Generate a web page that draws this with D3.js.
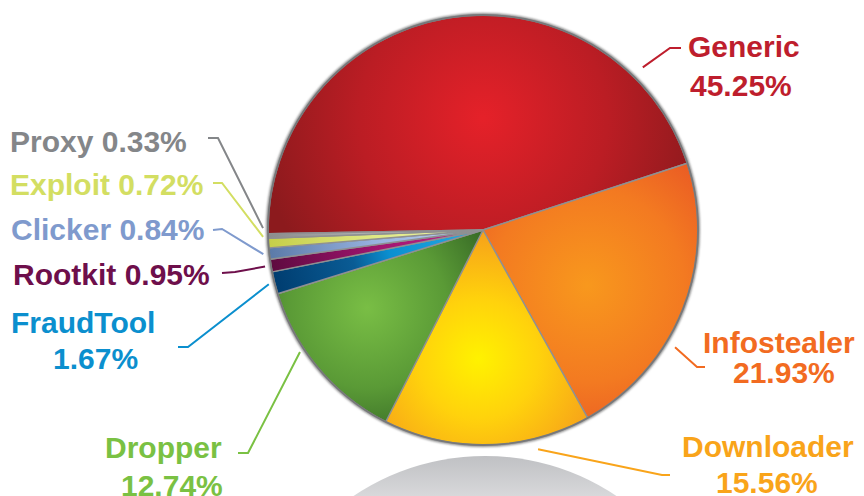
<!DOCTYPE html>
<html>
<head>
<meta charset="utf-8">
<script src="https://cdn.jsdelivr.net/npm/d3@7"></script>
<style>
  html, body { margin: 0; padding: 0; background: #ffffff; }
  svg { display: block; }
  text { font-family: "Liberation Sans", Arial, Helvetica, sans-serif; font-weight: bold; }
</style>
</head>
<body>
<svg id="chart" width="864" height="496"></svg>
<script>
// ---- data ----
const categories = ["Generic", "Infostealer", "Downloader", "Dropper", "FraudTool", "Rootkit", "Clicker", "Exploit", "Proxy"];
const shares = [45.25, 21.93, 15.56, 12.74, 1.67, 0.95, 0.84, 0.72, 0.33];
const valueLabels = ["45.25%", "21.93%", "15.56%", "12.74%", "1.67%", "0.95%", "0.84%", "0.72%", "0.33%"];

// ---- styles ----
const labelColors = ["#be1e2d", "#f26b21", "#f9a41a", "#7ac143", "#0b8fce", "#6e0f4b", "#7f9acd", "#d3de62", "#848689"];
const sliceStops = [
  [["0", "#e52129"], ["0.55", "#bb1d24"], ["1", "#8c1a1d"]],
  [["0", "#f8981d"], ["0.6", "#f37a21"], ["1", "#ea5a24"]],
  [["0", "#fff200"], ["0.45", "#ffd20c"], ["1", "#f69d1b"]],
  [["0", "#79be45"], ["0.6", "#5a9a36"], ["1", "#3a6e27"]],
  [["0", "#29abe2"], ["0.45", "#0a8fd0"], ["0.62", "#0a5c95"], ["1", "#003d70"]],
  [["0", "#c42a8d"], ["0.5", "#a0156f"], ["1", "#5e0a3f"]],
  [["0", "#bfd3f0"], ["0.5", "#98b3e0"], ["1", "#5b7aa8"]],
  [["0", "#f1f5b0"], ["0.5", "#e0e884"], ["1", "#c5ce48"]],
  [["0", "#d6d6d6"], ["0.5", "#b5b5b5"], ["1", "#8c8c8c"]]
];
// gradient focus: [angle deg, radius fraction, gradient radius fraction]
const sliceLight = [
  [0, 0.52, 1.05], [118, 0.55, 0.75], [182, 0.6, 0.62], [236, 0.65, 0.62],
  [0, 0, 1], [0, 0, 1], [0, 0, 1], [0, 0, 1], [0, 0, 1]
];

// ---- layout ----
const cx = 483, cy = 230, R = 215;
const startDeg = -91;
// label layout: lines [x, y, which], leader anchor angle (null = slice middle), anchor radius offset, elbow points
const labelLayout = [
  { lines: [[688, 57, "name"], [690, 96, "value"]], anchor: 44.5, off: 13, elbow: [[670, 48], [681, 48]] },
  { lines: [[703, 353, "name"], [733, 383, "value"]], anchor: 121.4, off: 10, elbow: [[697, 367], [705, 367]] },
  { lines: [[682, 457, "name"], [716, 493, "value"]], anchor: 165.9, off: 11, elbow: [[662, 475], [670, 475]] },
  { lines: [[105, 458, "name"], [121, 496, "value"]], anchor: 236.3, off: 5, elbow: [[248, 453], [238, 453]] },
  { lines: [[11, 333, "name"], [53, 369, "value"]], anchor: null, off: 6, elbow: [[188, 347], [178, 347]] },
  { lines: [[13, 285, "both"]], anchor: null, off: 6, elbow: [[235, 272], [222, 273]] },
  { lines: [[11, 240, "both"]], anchor: null, off: 6, elbow: [[222, 229], [213, 230]] },
  { lines: [[10, 195, "both"]], anchor: 268.2, off: 5, elbow: [[222, 183], [213, 183]] },
  { lines: [[10, 152, "both"]], anchor: 270.5, off: 5, elbow: [[218, 138], [208, 138]] }
];

const rad = d => d * Math.PI / 180;
const svg = d3.select("#chart");
const defs = svg.append("defs");

// floor reflection
const floorGrad = defs.append("linearGradient").attr("id", "floorGrad")
  .attr("gradientUnits", "userSpaceOnUse").attr("x1", 0).attr("y1", 455).attr("x2", 0).attr("y2", 540);
floorGrad.append("stop").attr("offset", "0").attr("stop-color", "#bfc0c3");
floorGrad.append("stop").attr("offset", "1").attr("stop-color", "#f2f2f3");
svg.append("ellipse").attr("cx", 485).attr("cy", 662).attr("rx", 222).attr("ry", 206)
  .attr("fill", "url(#floorGrad)");

// rim shadow filter
const blur = defs.append("filter").attr("id", "rimBlur").attr("x", "-10%").attr("y", "-10%").attr("width", "120%").attr("height", "120%");
blur.append("feGaussianBlur").attr("stdDeviation", 1.2);

const pie = d3.pie().sort(null).value(d => d.v)
  .startAngle(rad(startDeg)).endAngle(rad(startDeg + 360));
const data = categories.map((c, i) => ({ name: c, v: shares[i], label: valueLabels[i], i }));
const arcs = pie(data);
const arc = d3.arc().innerRadius(0).outerRadius(R);

// gradients (positions relative to the pie centre)
arcs.forEach((a, i) => {
  const [ang, rf, gr] = sliceLight[i];
  const fx = R * rf * Math.sin(rad(ang));
  const fy = -R * rf * Math.cos(rad(ang));
  const gr0 = defs.append("radialGradient").attr("id", "sg" + i)
    .attr("gradientUnits", "userSpaceOnUse")
    .attr("cx", fx).attr("cy", fy).attr("r", R * gr);
  sliceStops[i].forEach(s => gr0.append("stop").attr("offset", s[0]).attr("stop-color", s[1]));
});

const g = svg.append("g").attr("transform", `translate(${cx},${cy})`);

// outer rim shadow
g.append("circle").attr("r", R + 0.5).attr("fill", "none")
  .attr("stroke", "#8a8a8a").attr("stroke-width", 3).attr("filter", "url(#rimBlur)");

g.selectAll("path.slice").data(arcs).join("path")
  .attr("class", "slice")
  .attr("d", arc)
  .attr("fill", (d, i) => `url(#sg${i})`)
  .attr("stroke", "#8f9092")
  .attr("stroke-width", 1.4)
  .attr("stroke-linejoin", "round");

g.append("circle").attr("r", R).attr("fill", "none")
  .attr("stroke", "#77787a").attr("stroke-width", 1.8);

// labels + leaders
const lab = svg.append("g");
arcs.forEach((a, i) => {
  const L = labelLayout[i];
  const col = labelColors[i];
  const angDeg = L.anchor !== null ? L.anchor : ((a.startAngle + a.endAngle) / 2) * 180 / Math.PI;
  const rr = R + L.off;
  const p0 = [cx + rr * Math.sin(rad(angDeg)), cy - rr * Math.cos(rad(angDeg))];
  const pts = [p0].concat(L.elbow);
  lab.append("path")
    .attr("d", d3.line()(pts))
    .attr("fill", "none").attr("stroke", col).attr("stroke-width", 2);
  L.lines.forEach(ln => {
    const txt = ln[2] === "name" ? a.data.name : ln[2] === "value" ? a.data.label : a.data.name + " " + a.data.label;
    lab.append("text").attr("x", ln[0]).attr("y", ln[1])
      .attr("fill", col).attr("font-size", 30).text(txt);
  });
});
</script>
</body>
</html>
